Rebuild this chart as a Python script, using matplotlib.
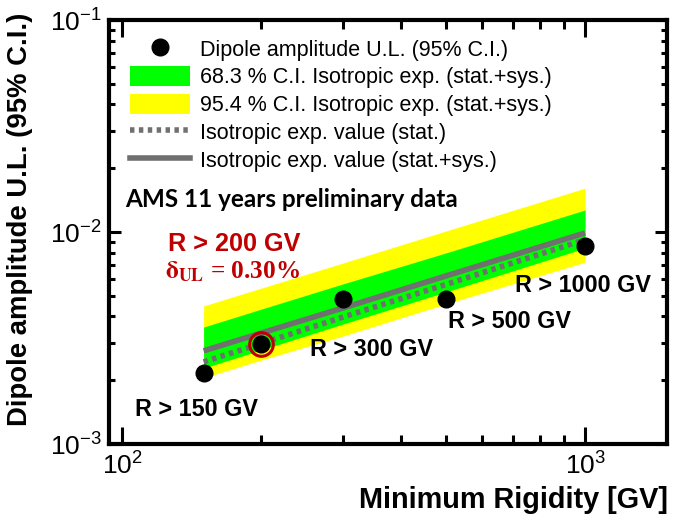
import matplotlib
matplotlib.use("Agg")
import matplotlib.pyplot as plt
from matplotlib.lines import Line2D
from matplotlib.patches import Patch
from matplotlib.ticker import LogLocator, NullFormatter, FixedLocator

plt.rcParams['font.family'] = ['Liberation Sans', 'DejaVu Sans']
plt.rcParams['mathtext.fontset'] = 'custom'
plt.rcParams['mathtext.rm'] = 'Liberation Sans'
plt.rcParams['mathtext.it'] = 'Liberation Sans:italic'
plt.rcParams['mathtext.bf'] = 'Liberation Sans:bold'
plt.rcParams['mathtext.default'] = 'regular'

# Data
rigidity = [150, 200, 300, 500, 1000]
dipole_ul = [2.17e-3, 2.95e-3, 4.85e-3, 4.85e-3, 8.55e-3]
yellow_hi = [4.48e-3, 5.44e-3, 7.14e-3, 1.01e-2, 1.61e-2]
green_hi = [3.56e-3, 4.33e-3, 5.69e-3, 7.96e-3, 1.27e-2]
iso_statsys = [2.75e-3, 3.34e-3, 4.38e-3, 6.20e-3, 9.9e-3]
iso_stat = [2.44e-3, 2.98e-3, 3.97e-3, 5.65e-3, 9.2e-3]
green_lo = [2.28e-3, 2.78e-3, 3.68e-3, 5.21e-3, 8.4e-3]
yellow_lo = [2.05e-3, 2.49e-3, 3.23e-3, 4.57e-3, 7.2e-3]
point_labels = ["R > 150 GV", "R > 200 GV", "R > 300 GV", "R > 500 GV", "R > 1000 GV"]

W, H = 673, 523
fig = plt.figure(figsize=(W / 100, H / 100), dpi=100)
ax = fig.add_axes([109 / W, 1 - 444 / H, (667 - 109) / W, (444 - 20) / H])
ax.set_xscale('log')
ax.set_yscale('log')
ax.set_xlim(93.7, 1503)
ax.set_ylim(1e-3, 1e-1)

ax.fill_between(rigidity, yellow_lo, yellow_hi, color='#FFFF00', lw=0, zorder=1)
ax.fill_between(rigidity, green_lo, green_hi, color='#00FF00', lw=0, zorder=2)
ax.plot(rigidity, iso_statsys, color='#707070', lw=4.0, solid_capstyle='butt', zorder=3)
ax.plot(rigidity, iso_stat, color='#707070', lw=4.0, dashes=(0.8, 0.8), zorder=3)
ax.plot(rigidity, dipole_ul, 'o', color='black', ms=12, zorder=5)
# highlighted point R > 200 GV
ax.plot([rigidity[1]], [dipole_ul[1]], 'o', ms=17, mfc='none', mec='#C00000', mew=2.2, zorder=6)

# point annotations
lab_kw = dict(fontsize=16.8, fontweight='bold', color='black', family=['Liberation Sans', 'DejaVu Sans'])
fig.text(135 / W, 1 - 410 / H, point_labels[0], ha='left', va='center', **lab_kw)
fig.text(310 / W, 1 - 350 / H, point_labels[2], ha='left', va='center', **lab_kw)
fig.text(448 / W, 1 - 322 / H, point_labels[3], ha='left', va='center', **lab_kw)
fig.text(515 / W, 1 - 285 / H, point_labels[4], ha='left', va='center', **lab_kw)
fig.text(168 / W, 1 - 244 / H, point_labels[1], ha='left', va='center', fontsize=18.2,
         fontweight='bold', color='#C00000')
fig.text(165 / W, 1 - 272 / H, r'$\mathbf{\delta_{UL}}$ = 0.30%', ha='left', va='center',
         fontsize=18.2, fontweight='bold', color='#C00000', family=['Liberation Serif'],
         math_fontfamily='stix')
fig.text(125 / W, 1 - 200 / H, 'AMS 11 years preliminary data', ha='left', va='center',
         fontsize=17.5, fontweight='bold', family=['Lato', 'DejaVu Sans'])

# legend
handles = [
    Line2D([], [], marker='o', color='black', ls='none', ms=12),
    Patch(facecolor='#00FF00', edgecolor='none'),
    Patch(facecolor='#FFFF00', edgecolor='none'),
    Line2D([], [], color='#707070', lw=4, dashes=(0.8, 0.8)),
    Line2D([], [], color='#707070', lw=4),
]
labels = [
    'Dipole amplitude U.L. (95% C.I.)',
    '68.3 % C.I. Isotropic exp. (stat.+sys.)',
    '95.4 % C.I. Isotropic exp. (stat.+sys.)',
    'Isotropic exp. value (stat.)',
    'Isotropic exp. value (stat.+sys.)',
]
leg = ax.legend(handles, labels, loc='upper left', bbox_to_anchor=((130 - 109) / 558, (444 - 38) / 424),
                frameon=False, fontsize=15.5, handlelength=2.8, handleheight=1.1,
                labelspacing=0.24, handletextpad=0.45, borderpad=0, borderaxespad=0)

# axes styling
for s in ax.spines.values():
    s.set_linewidth(3)
ax.xaxis.set_major_locator(FixedLocator([100, 1000]))
ax.xaxis.set_minor_locator(FixedLocator([200, 300, 400, 500, 600, 700, 800, 900]))
ax.xaxis.set_minor_formatter(NullFormatter())
ax.set_xticklabels(['$10^{2}$', '$10^{3}$'])
ax.yaxis.set_major_locator(FixedLocator([1e-3, 1e-2, 1e-1]))
ax.yaxis.set_minor_locator(LogLocator(base=10, subs=range(2, 10)))
ax.yaxis.set_minor_formatter(NullFormatter())
ax.set_yticklabels(['$10^{-3}$', '$10^{-2}$', '$10^{-1}$'])
ax.tick_params(which='both', direction='in', top=True, right=True, width=2.2, labelsize=19)
ax.tick_params(axis='x', which='major', length=12, pad=6)
ax.tick_params(axis='x', which='minor', length=6.5)
ax.tick_params(axis='y', which='major', length=8.6, pad=5)
ax.tick_params(axis='y', which='minor', length=4.3)

fig.text(20 / W, 1 - 13 / H, 'Dipole amplitude U.L. (95% C.I.)', rotation=90, ha='center', va='top',
         fontsize=19.8, fontweight='bold')
fig.text(668 / W, 1 - 500 / H, 'Minimum Rigidity [GV]', ha='right', va='center',
         fontsize=20.8, fontweight='bold')

fig.savefig('out.png', dpi=100)
